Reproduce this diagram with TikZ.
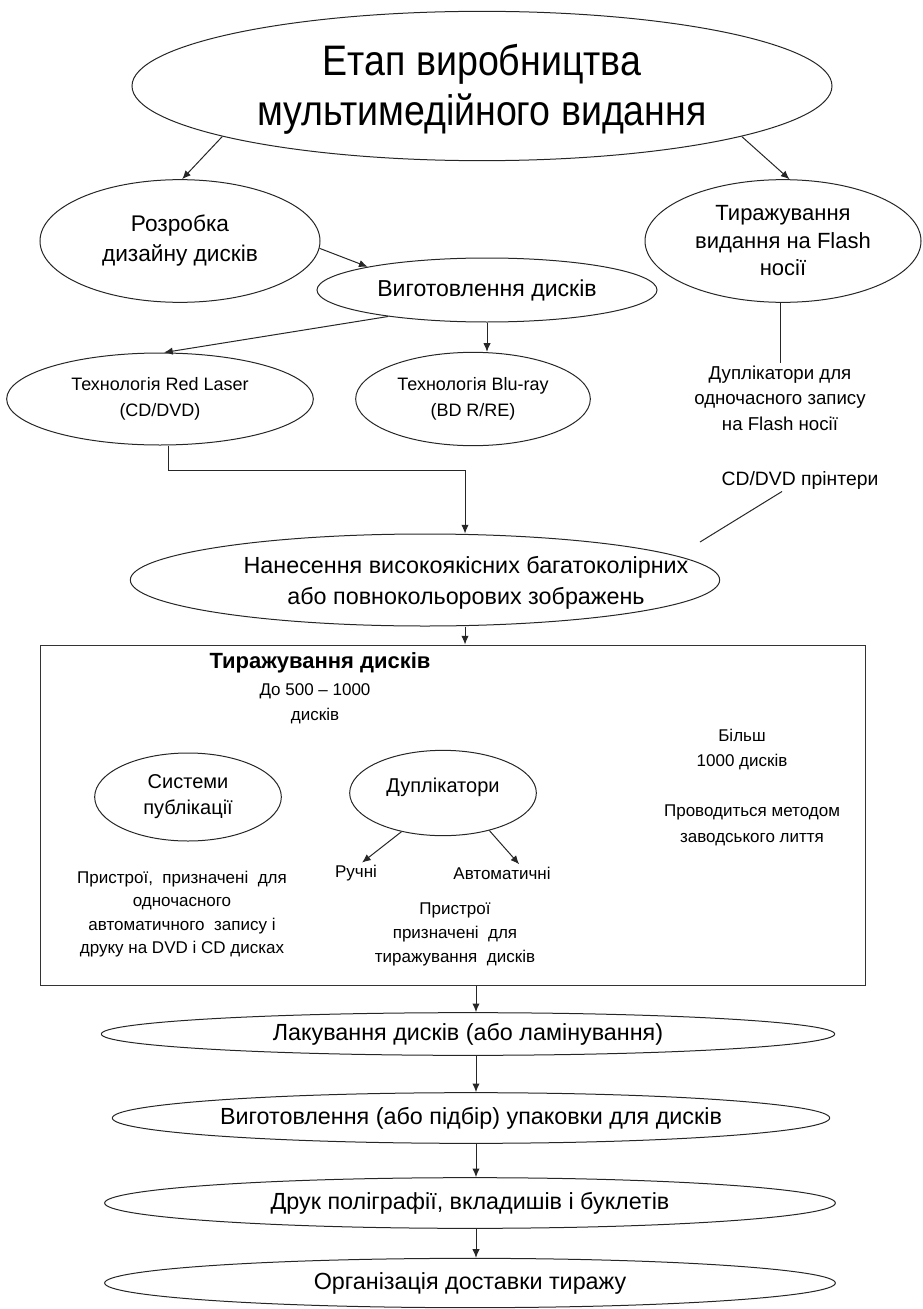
\documentclass[tikz,border=0pt]{standalone}
\usepackage{fontspec}
\setmainfont{Liberation Sans}
\newfontfamily\narrowsans[FakeStretch=0.88]{Liberation Sans}
\usetikzlibrary{shapes.geometric,arrows.meta}

\begin{document}
\begin{tikzpicture}[x=0.75pt,y=-0.75pt,
  line width=0.75pt,
  oval/.style={draw=black!85,ellipse,inner sep=0pt,align=center},
  lbl/.style={inner sep=1.5pt,align=center},
  arr/.style={draw=black!85,-{Latex[length=6.5pt,width=5.5pt]}},
  lnk/.style={draw=black!85},
  fs/.style 2 args={font=\fontsize{#1}{#2}\selectfont}
]
\useasboundingbox (0,0) rectangle (922,1309);

% top level
\node[oval,minimum width=525pt,minimum height=112pt] (title) at (482,86) {};
\node[lbl,fs={32}{37.5}] (titletext) at (482,89)
  {\narrowsans Етап виробництва\\\narrowsans мультимедійного видання};

\node[oval,minimum width=210pt,minimum height=92pt,fs={17}{22.5}] (design) at (180,241)
  {Розробка\\дизайну дисків};
\node[oval,minimum width=207pt,minimum height=92pt,fs={16.5}{20.6}] (flash) at (783,241)
  {Тиражування\\видання на Flash\\носії};
\node[oval,minimum width=255pt,minimum height=48pt,fs={17.3}{20}] (make) at (487,290)
  {Виготовлення дисків};

\node[oval,minimum width=230pt,minimum height=69pt,fs={13.5}{20}] (red) at (160,399)
  {Технологія Red Laser\\(CD/DVD)};
\node[oval,minimum width=176pt,minimum height=70pt,fs={13.5}{20}] (blu) at (473,399)
  {Технологія Blu-ray\\(BD R/RE)};

\node[lbl,fs={14}{19}] (dupflash) at (780,398)
  {Дуплікатори для\\одночасного запису\\на Flash носії};
\node[lbl,fs={14.5}{16}] (printers) at (800,480) {CD/DVD прінтери};
\coordinate (prnend) at (700,542);

\node[oval,minimum width=442pt,minimum height=69pt] (apply) at (425,580) {};
\node[lbl,fs={17.5}{23}] (applytext) at (466,583)
  {Нанесення високоякісних багатоколірних\\або повнокольорових зображень};

% replication block
\node[draw=black!80,rectangle,inner sep=0pt,minimum width=618.75pt,minimum height=255pt] (box) at (452.5,815) {};
\node[lbl,fs={16.5}{20}] (boxtitle) at (320,663) {\bfseries Тиражування дисків};
\node[lbl,fs={12.75}{18.75}] (upto) at (315,704) {До 500 – 1000\\дисків};

\node[oval,minimum width=140pt,minimum height=66pt,fs={15}{19.5}] (pubsys) at (188,797)
  {Системи\\публікації};
\node[oval,minimum width=140pt,minimum height=64pt] (dup) at (443,793) {};
\node[lbl,fs={15}{19.5}] (duptext) at (443,787) {Дуплікатори};
\node[lbl,fs={12.75}{16}] (manual) at (356,873) {Ручні};
\node[lbl,fs={12.75}{16}] (auto) at (502,873) {Автоматичні};

\node[lbl,fs={12.75}{17.6}] (pubnote) at (182,914)
  {Пристрої,\ \ призначені\ \ для\\одночасного\\автоматичного\ \ запису і\\друку на DVD і CD дисках};
\node[lbl,fs={12.75}{18}] (dupnote) at (455,934)
  {Пристрої\\призначені\ \ для\\тиражування\ \ дисків};
\node[lbl,fs={12.75}{18.75}] (more) at (742,750) {Більш\\1000 дисків};
\node[lbl,fs={12.75}{19.5}] (factory) at (752,825) {Проводиться методом\\заводського лиття};

% final stages
\node[oval,minimum width=550pt,minimum height=32pt,fs={17.5}{20}] (lacq) at (468,1034)
  {Лакування дисків (або ламінування)};
\node[oval,minimum width=538pt,minimum height=38pt,fs={17.5}{20}] (pack) at (471,1118)
  {Виготовлення (або підбір) упаковки для дисків};
\node[oval,minimum width=548pt,minimum height=38pt,fs={17.5}{20}] (print) at (470,1203)
  {Друк поліграфії, вкладишів і буклетів};
\node[oval,minimum width=548pt,minimum height=37pt,fs={17.5}{20}] (deliv) at (470,1283)
  {Організація доставки тиражу};

% helper columns for straight connectors
\coordinate (redcol) at (168,470);
\coordinate (col) at (465,470);
\coordinate (spine) at (476,1000);

% connectors
\draw[arr] (title.191) -- (design.88);
\draw[arr] (title.349) -- (flash.84);
\draw[arr] (design.357) -- (make.169);
\draw[arr] (make.195) -- (red.85);
\draw[arr] (make.south) -- (blu.north -| make.south);
\draw[arr] (red.south -| redcol) -- (redcol) -- (col) -- (apply.north -| col);
\draw[lnk] (flash.south -| dupflash.north) -- (dupflash.north);
\path (printers.south) ++(-18,0) coordinate (prnstart);
\draw[lnk] (prnstart) -- (prnend);
\draw[arr] (apply.south -| col) -- (box.north -| col);
\draw[arr] (dup.223) -- (manual.60);
\draw[arr] (dup.321) -- (auto.27);
\draw[arr] (box.south -| spine) -- (lacq.north -| spine);
\draw[arr] (lacq.south -| spine) -- (pack.north -| spine);
\draw[arr] (pack.south -| spine) -- (print.north -| spine);
\draw[arr] (print.south -| spine) -- (deliv.north -| spine);
\end{tikzpicture}
\end{document}
